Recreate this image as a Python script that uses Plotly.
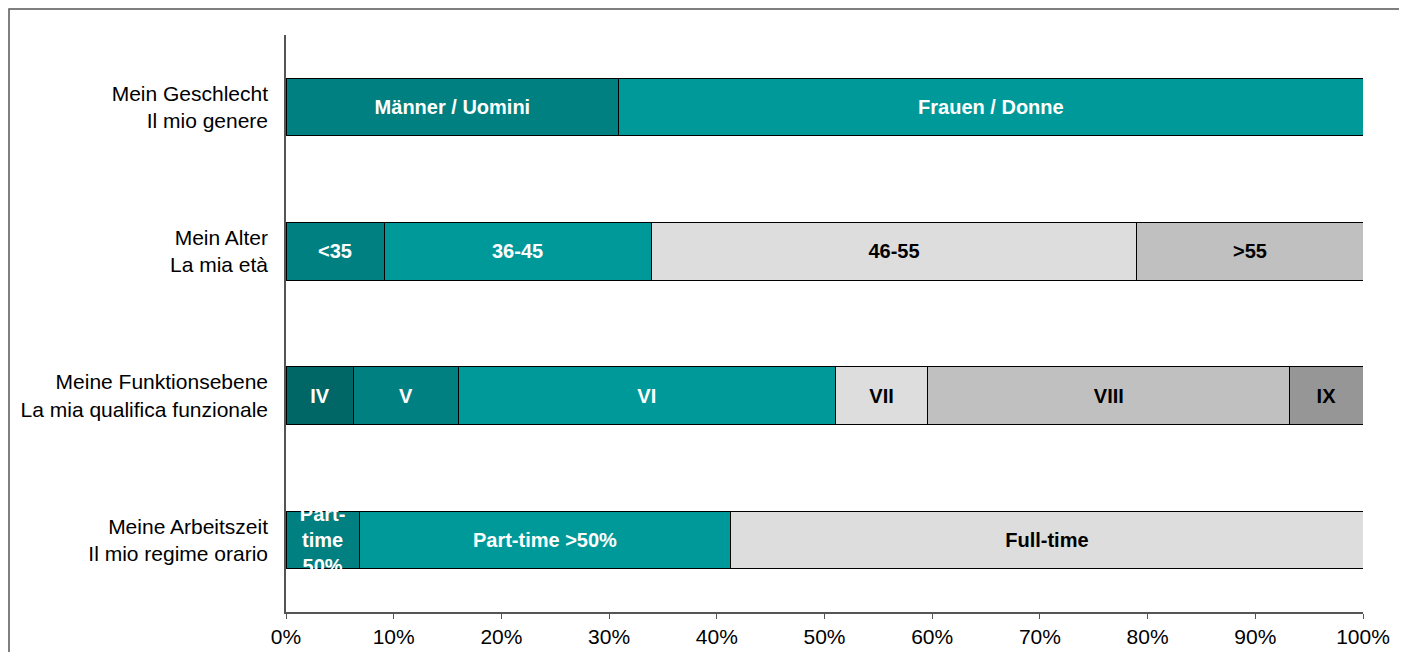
import plotly.graph_objects as go

# categories (top to bottom)
categories = [
    "Mein Geschlecht<br>Il mio genere",
    "Mein Alter<br>La mia età",
    "Meine Funktionsebene<br>La mia qualifica funzionale",
    "Meine Arbeitszeit<br>Il mio regime orario",
]

# segments per category: labels, values (%), colours
gender_labels = ["Männer / Uomini", "Frauen / Donne"]
gender_values = [30.9, 69.1]
gender_colors = ["#008080", "#009999"]

age_labels = ["<35", "36-45", "46-55", ">55"]
age_values = [9.1, 24.8, 45.1, 21.0]
age_colors = ["#008080", "#009999", "#DDDDDD", "#C0C0C0"]

level_labels = ["IV", "V", "VI", "VII", "VIII", "IX"]
level_values = [6.3, 9.7, 35.0, 8.6, 33.6, 6.8]
level_colors = ["#006666", "#008080", "#009999", "#DDDDDD", "#C0C0C0", "#969696"]

time_labels = ["Part-<br>time<br>50%", "Part-time >50%", "Full-time"]
time_values = [6.8, 34.5, 58.7]
time_colors = ["#008080", "#009999", "#DDDDDD"]

rows = [
    (categories[0], gender_labels, gender_values, gender_colors),
    (categories[1], age_labels, age_values, age_colors),
    (categories[2], level_labels, level_values, level_colors),
    (categories[3], time_labels, time_values, time_colors),
]

fig = go.Figure()
for cat, labels, values, colors in rows:
    for lab, val, col in zip(labels, values, colors):
        dark = col.startswith("#00")
        fig.add_trace(go.Bar(
            y=[cat], x=[val], orientation="h",
            marker=dict(color=col, line=dict(color="#000000", width=1)),
            text=[lab], textposition="inside", insidetextanchor="middle",
            constraintext="none", textangle=0, cliponaxis=False,
            textfont=dict(family="Liberation Sans, Arial", size=20,
                          color="#FFFFFF" if dark else "#000000",
                          weight="bold"),
            hoverinfo="skip", showlegend=False, width=0.4,
        ))

# page body has an 8px margin, so the figure is placed at (8, 8)
W, H = 1399, 644
L, R, T, B = 278, 44, 27, 40
pw, ph = W - L - R, H - T - B

fig.update_layout(
    barmode="stack",
    width=W, height=H,
    margin=dict(l=L, r=R, t=T, b=B, autoexpand=False),
    plot_bgcolor="white", paper_bgcolor="white",
    font=dict(family="Liberation Sans, Arial", size=21, color="#000000"),
    xaxis=dict(
        range=[0, 100], tickvals=[0, 10, 20, 30, 40, 50, 60, 70, 80, 90, 100],
        ticktext=[f"{v}%" for v in range(0, 101, 10)],
        showgrid=False, zeroline=False, showline=True, linecolor="#555555",
        linewidth=1.5, ticks="outside", ticklen=5, tickcolor="#555555",
        ticklabelstandoff=0, tickfont=dict(size=21), automargin=False,
    ),
    yaxis=dict(
        categoryorder="array", categoryarray=categories, autorange="reversed",
        showgrid=False, zeroline=False, showline=True, linecolor="#555555",
        linewidth=1.5, ticks="", ticklabelstandoff=12,
        tickfont=dict(size=21), automargin=False,
    ),
    shapes=[dict(
        type="rect", xref="paper", yref="paper",
        x0=(1 - L) / pw, x1=(W - 5 - L) / pw,
        y0=-(B + 10) / ph, y1=(H - B - 1) / ph,
        line=dict(color="#555555", width=1.5), layer="below",
    )],
)

fig.write_html("out.html")
